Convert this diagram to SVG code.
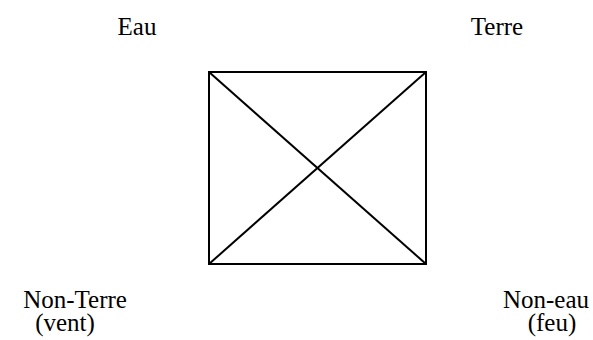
<svg xmlns="http://www.w3.org/2000/svg" width="593" height="340" viewBox="0 0 593 340">
<style>
text{font-family:"Liberation Serif","Times New Roman",serif;font-size:25px;fill:#000;text-anchor:middle}
.l{stroke:#000;stroke-width:2;fill:none}
</style>
<rect width="593" height="340" fill="#fff"/>
<g id="square">
<rect class="l" x="209" y="72" width="217" height="192"/>
</g>
<g id="connectors">
<line class="l" x1="209" y1="72" x2="426" y2="264"/>
<line class="l" x1="426" y1="72" x2="209" y2="264"/>
</g>
<g id="eau"><text x="137" y="35">Eau</text></g>
<g id="terre"><text x="497" y="35">Terre</text></g>
<g id="non-terre"><text x="75" y="308">Non-Terre</text><text x="65" y="331">(vent)</text></g>
<g id="non-eau"><text x="546" y="308">Non-eau</text><text x="552" y="331">(feu)</text></g>
</svg>
